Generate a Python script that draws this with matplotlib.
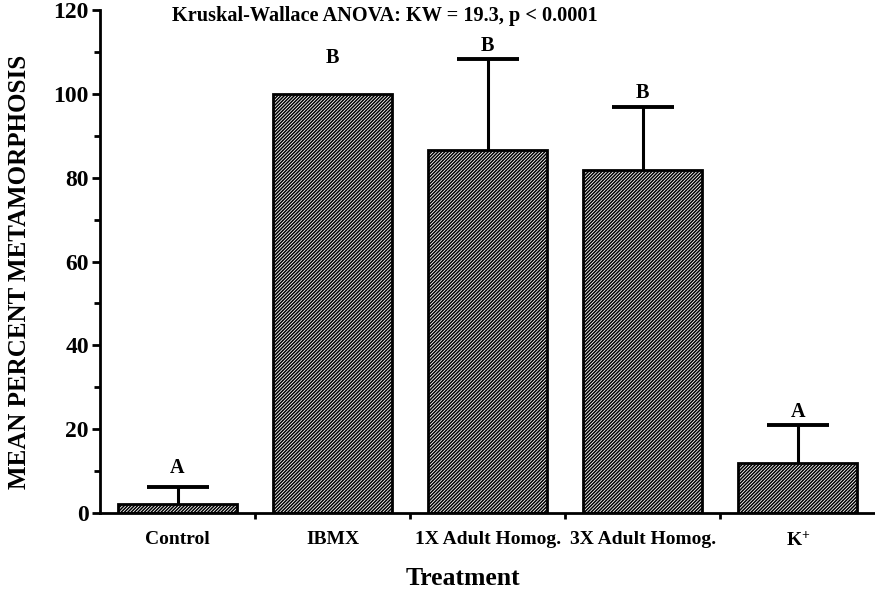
import numpy as np
import matplotlib.pyplot as plt

treatments = ["Control", "IBMX", "1X Adult Homog.", "3X Adult Homog.", "K$^{+}$"]
mean_pct = [2.1, 100.0, 86.7, 81.8, 11.9]
sem_up = [4.1, 0.0, 21.6, 15.0, 9.2]
group_letters = ["A", "B", "B", "B", "A"]
letter_y = [10.7, 108.6, 111.4, 100.2, 24.0]

plt.rcParams["font.family"] = ["Liberation Serif", "DejaVu Serif"]
plt.rcParams["font.weight"] = "bold"
plt.rcParams["mathtext.fontset"] = "custom"
plt.rcParams["mathtext.rm"] = "Liberation Serif:bold"
plt.rcParams["mathtext.default"] = "rm"
plt.rcParams["hatch.linewidth"] = 1.1

fig = plt.figure(figsize=(8.75, 5.92), dpi=100)
ax = fig.add_axes([0.1143, 0.1334, 0.886, 0.8497])

x = np.arange(len(treatments))
means = np.array(mean_pct)
errs = np.array(sem_up)
ax.bar(x, means, width=0.77, color="white", edgecolor="black",
       linewidth=2.0, hatch="/" * 10, zorder=2)

# upper error bars only, skip bars with no error
has_err = errs > 0
eb = ax.errorbar(x[has_err], means[has_err],
                 yerr=[np.zeros(has_err.sum()), errs[has_err]],
                 fmt="none", ecolor="black", elinewidth=2.2,
                 capsize=22, capthick=2.8, zorder=1)
caps = eb[1]
if len(caps) == 2:
    caps[0].set_visible(False)

for xi, lab, ly in zip(x, group_letters, letter_y):
    ax.text(xi, ly, lab, ha="center", va="center", fontsize=14.5, fontweight="bold")

ax.set_xlim(-0.5, len(treatments) - 0.5)
ax.set_ylim(0, 120)
ax.spines["top"].set_visible(False)
ax.spines["right"].set_visible(False)
ax.spines["left"].set_linewidth(2.0)
ax.spines["bottom"].set_linewidth(2.0)

ax.set_yticks(np.arange(0, 121, 20))
ax.set_yticks(np.arange(10, 120, 20), minor=True)
ax.set_xticks(x)
ax.set_xticklabels(treatments, fontsize=14, fontweight="bold")
ax.set_xticks(np.arange(0.5, len(treatments) - 0.5, 1), minor=True)
ax.tick_params(axis="x", which="major", length=0, pad=13)
ax.tick_params(axis="x", which="minor", length=4, width=2)
ax.tick_params(axis="y", which="major", length=6, width=2, labelsize=17, pad=2)
ax.tick_params(axis="y", which="minor", length=4, width=2)
for t in ax.get_yticklabels():
    t.set_fontweight("bold")

fig.text(0.022, 0.5405, "MEAN PERCENT METAMORPHOSIS", rotation=90, ha="center",
         va="center", fontsize=18, fontweight="bold")
fig.text(0.529, 0.0236, "Treatment", ha="center", va="center",
         fontsize=18.5, fontweight="bold")
fig.text(0.44, 0.973, "Kruskal-Wallace ANOVA: KW = 19.3, p < 0.0001",
         ha="center", va="center", fontsize=14.6, fontweight="bold")

fig.savefig("out.png", dpi=100)
